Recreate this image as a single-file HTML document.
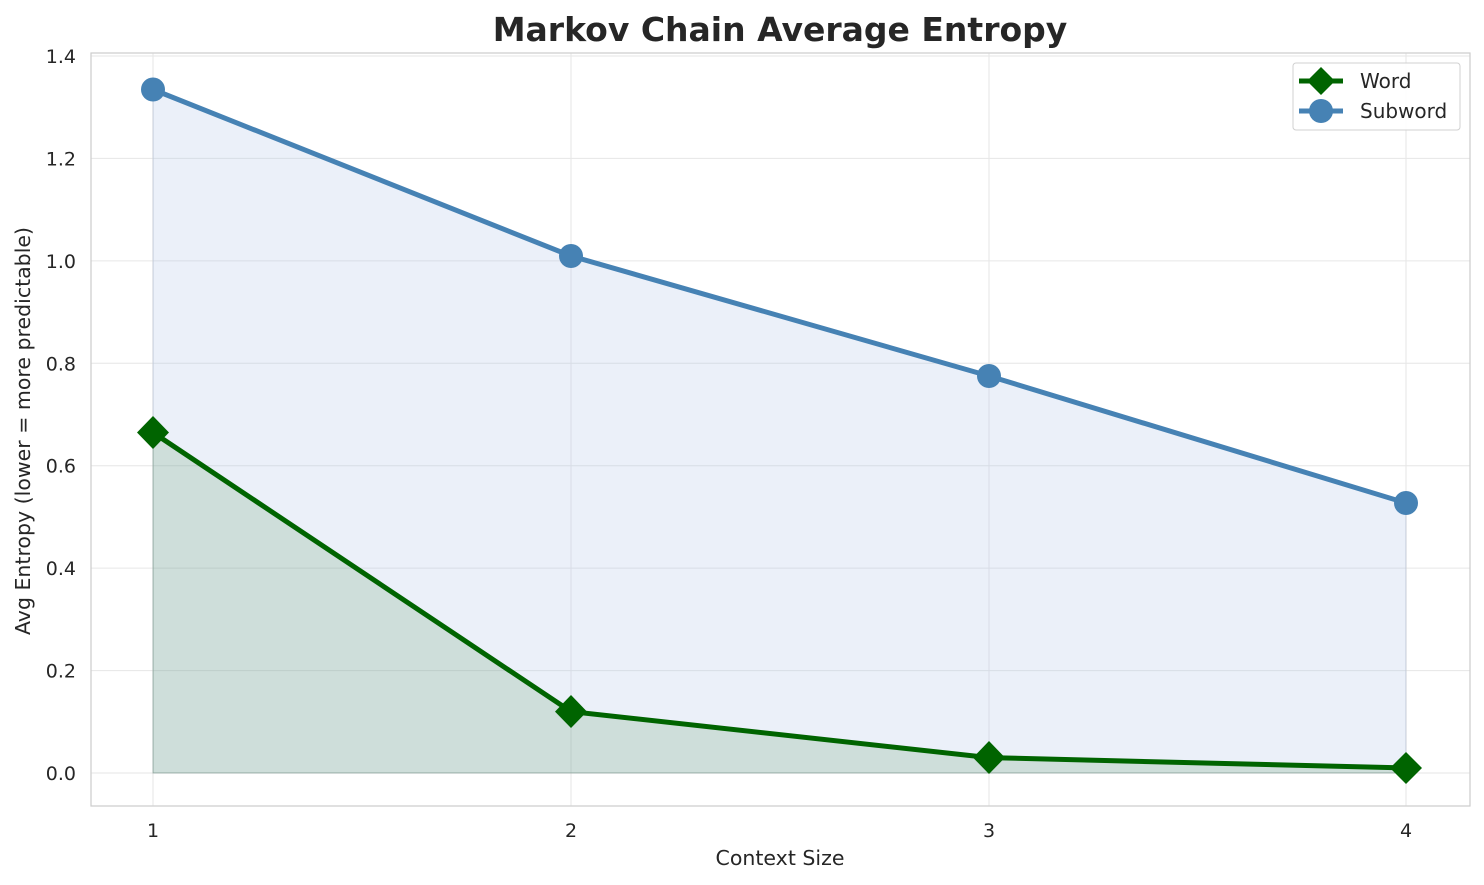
<!DOCTYPE html>
<html><head><meta charset="utf-8"><style>body{margin:0;background:#fff}svg{display:block;font-family:"DejaVu Sans","Liberation Sans",sans-serif}</style></head><body>
<svg width="1484" height="885" viewBox="0 0 1484 885" xmlns="http://www.w3.org/2000/svg">
<rect width="1484" height="885" fill="#fff"/>
<g stroke="#e6e6e6" stroke-width="1">
<line x1="153" y1="53" x2="153" y2="806"/><line x1="571" y1="53" x2="571" y2="806"/><line x1="989" y1="53" x2="989" y2="806"/><line x1="1406" y1="53" x2="1406" y2="806"/>
<line x1="91" y1="773" x2="1470" y2="773"/><line x1="91" y1="670.6" x2="1470" y2="670.6"/><line x1="91" y1="568.1" x2="1470" y2="568.1"/><line x1="91" y1="465.7" x2="1470" y2="465.7"/><line x1="91" y1="363.3" x2="1470" y2="363.3"/><line x1="91" y1="260.9" x2="1470" y2="260.9"/><line x1="91" y1="158.4" x2="1470" y2="158.4"/><line x1="91" y1="56" x2="1470" y2="56"/>
</g>
<polygon points="153,89.5 571,256 989,376 1406,503 1406,773 153,773" fill="#b0c4e6" fill-opacity="0.25" stroke="#9aabc0" stroke-opacity="0.4"/>
<polygon points="153,432.5 571,711.6 989,757.6 1406,768 1406,773 153,773" fill="#006400" fill-opacity="0.12" stroke="#557755" stroke-opacity="0.3"/>
<rect x="91" y="53" width="1379" height="753" fill="none" stroke="#cccccc" stroke-width="1.2"/>
<polyline points="153,89.5 571,256 989,376 1406,503" fill="none" stroke="#4682b4" stroke-width="5"/>
<g fill="#4682b4"><circle cx="153" cy="89.5" r="12"/><circle cx="571" cy="256" r="12"/><circle cx="989" cy="376" r="12"/><circle cx="1406" cy="503" r="12"/></g>
<polyline points="153,432.5 571,711.6 989,757.6 1406,768" fill="none" stroke="#006400" stroke-width="5"/>
<g fill="#006400">
<polygon points="153,416 169,432.5 153,449 137,432.5"/><polygon points="571,695 587,711.6 571,728 555,711.6"/><polygon points="989,741 1005,757.6 989,774 973,757.6"/><polygon points="1406,752 1422,768 1406,784 1390,768"/></g>
<g font-size="19" fill="#262626" text-anchor="end">
<text x="76" y="780">0.0</text><text x="76" y="677.6">0.2</text><text x="76" y="575">0.4</text><text x="76" y="472.7">0.6</text><text x="76" y="370.3">0.8</text><text x="76" y="267.9">1.0</text><text x="76" y="165.4">1.2</text><text x="76" y="63">1.4</text></g>
<g font-size="19" fill="#262626" text-anchor="middle">
<text x="153" y="837">1</text><text x="571" y="837">2</text><text x="989" y="837">3</text><text x="1406" y="837">4</text>
<text x="780" y="865" font-size="20.5">Context Size</text>
<text x="780" y="41" font-size="33" font-weight="bold">Markov Chain Average Entropy</text>
<text transform="translate(30,431) rotate(-90)" font-size="20.5">Avg Entropy (lower = more predictable)</text>
</g>
<rect x="1293" y="63" width="167" height="67" rx="3" fill="#fff" fill-opacity="0.85" stroke="#d0d0d0"/>
<line x1="1299" y1="81" x2="1343" y2="81" stroke="#006400" stroke-width="5"/>
<polygon points="1321,67 1335,81 1321,95 1307,81" fill="#006400"/>
<line x1="1299" y1="111" x2="1343" y2="111" stroke="#4682b4" stroke-width="5"/>
<circle cx="1321" cy="111" r="12" fill="#4682b4"/>
<text x="1360" y="88" font-size="20" fill="#262626">Word</text>
<text x="1360" y="118" font-size="20" fill="#262626">Subword</text>
</svg>
</body></html>
